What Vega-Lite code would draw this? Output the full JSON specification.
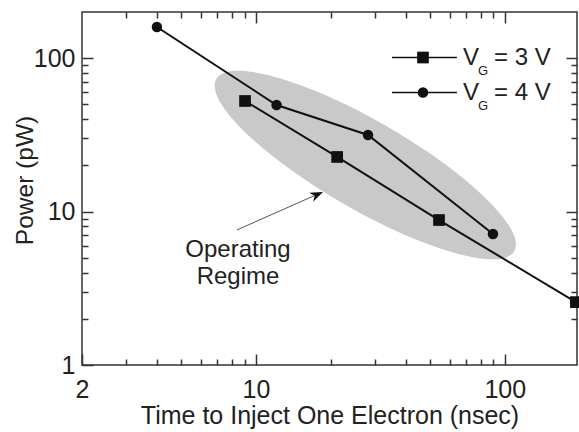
{
  "$schema": "https://vega.github.io/schema/vega-lite/v6.json",
  "width": 495,
  "height": 353,
  "autosize": {"type": "none"},
  "padding": {"left": 82, "top": 12, "right": 2, "bottom": 67},
  "background": "white",
  "config": {
    "view": {"stroke": "#333", "strokeWidth": 1.5},
    "font": "Liberation Sans",
    "axis": {
      "grid": false,
      "domain": false,
      "labelFont": "Liberation Sans",
      "titleFont": "Liberation Sans",
      "labelColor": "#222",
      "titleColor": "#222",
      "titleFontWeight": "normal",
      "tickColor": "#333",
      "tickWidth": 1.5
    }
  },
  "datasets": {
    "series": [
      {"t": 4.0, "p": 159.7, "vg": "4 V"},
      {"t": 12.1, "p": 49.5, "vg": "4 V"},
      {"t": 28.2, "p": 31.6, "vg": "4 V"},
      {"t": 89.6, "p": 7.14, "vg": "4 V"},
      {"t": 9.04, "p": 52.6, "vg": "3 V"},
      {"t": 21.2, "p": 22.7, "vg": "3 V"},
      {"t": 54.4, "p": 8.81, "vg": "3 V"},
      {"t": 193, "p": 2.57, "vg": "3 V"}
    ],
    "regime": [{"t": 27.5, "p": 20.1}],
    "legend": [
      {"x1": 35.2, "x2": 64.2, "xs": 46.9, "xt": 67.9, "p": 101, "vg": "3 V", "lab": "= 3 V"},
      {"x1": 35.2, "x2": 64.2, "xs": 46.9, "xt": 67.9, "p": 59.7, "vg": "4 V", "lab": "= 4 V"}
    ],
    "note": [{"tx": 8.47, "ty": 5.06, "txt": ["Operating", "Regime"], "ax1": 8.39, "ay1": 7.59, "ax2": 17.2, "ay2": 12.72, "axt": 18.6, "ayt": 13.42}]
  },
  "layer": [
    {
      "data": {"name": "regime"},
      "mark": {
        "type": "point",
        "shape": "M -1 0 C -1 -0.1425 -0.5523 -0.258 0 -0.258 C 0.5523 -0.258 1 -0.1425 1 0 C 1 0.1425 0.5523 0.258 0 0.258 C -0.5523 0.258 -1 0.1425 -1 0 Z",
        "size": 118336,
        "angle": 30,
        "filled": true,
        "color": "#c9c9c9",
        "opacity": 1,
        "strokeWidth": 0
      },
      "encoding": {
        "x": {
          "field": "t", "type": "quantitative",
          "scale": {"type": "log", "domain": [2, 195], "nice": false},
          "axis": {
            "orient": "top",
            "values": [3, 4, 5, 6, 7, 8, 9, 10, 20, 30, 40, 50, 60, 70, 80, 90, 100],
            "labels": false,
            "title": null,
            "tickSize": {"condition": {"test": "datum.value == 10 || datum.value == 100", "value": -11}, "value": -6}
          }
        },
        "y": {
          "field": "p", "type": "quantitative",
          "scale": {"type": "log", "domain": [1, 200], "nice": false},
          "axis": {
            "orient": "right",
            "values": [2, 3, 4, 5, 6, 7, 8, 9, 10, 20, 30, 40, 50, 60, 70, 80, 90, 100],
            "labels": false,
            "title": null,
            "tickSize": {"condition": {"test": "datum.value == 10 || datum.value == 100", "value": -11}, "value": -6}
          }
        }
      }
    },
    {
      "data": {"name": "series"},
      "mark": {"type": "line", "color": "#111", "strokeWidth": 2},
      "encoding": {
        "x": {
          "field": "t", "type": "quantitative",
          "axis": {
            "orient": "bottom",
            "values": [2, 3, 4, 5, 6, 7, 8, 9, 10, 20, 30, 40, 50, 60, 70, 80, 90, 100],
            "labelExpr": "datum.value == 2 || datum.value == 10 || datum.value == 100 ? '' + datum.value : ''",
            "tickSize": {"condition": {"test": "datum.value == 2 || datum.value == 10 || datum.value == 100", "value": -11}, "value": -6},
            "labelPadding": 43,
            "labelBaseline": "alphabetic",
            "labelFontSize": 25,
            "labelFlush": false,
            "labelOverlap": false,
            "title": "Time to Inject One Electron (nsec)",
            "titleFontSize": 25,
            "titleY": 58,
            "titleBaseline": "alphabetic"
          }
        },
        "y": {
          "field": "p", "type": "quantitative",
          "axis": {
            "orient": "left",
            "values": [1, 2, 3, 4, 5, 6, 7, 8, 9, 10, 20, 30, 40, 50, 60, 70, 80, 90, 100],
            "labelExpr": "datum.value == 1 || datum.value == 10 || datum.value == 100 ? '' + datum.value : ''",
            "tickSize": {"condition": {"test": "datum.value == 1 || datum.value == 10 || datum.value == 100", "value": -11}, "value": -6},
            "labelPadding": 18,
            "labelBaseline": "middle",
            "labelFontSize": 25,
            "labelFlush": false,
            "labelOverlap": false,
            "title": "Power (pW)",
            "titleFontSize": 24.5,
            "titleX": -45,
            "titleY": 168
          }
        },
        "detail": {"field": "vg"}
      }
    },
    {
      "data": {"name": "series"},
      "mark": {"type": "point", "filled": true, "color": "#111", "opacity": 1},
      "encoding": {
        "x": {"field": "t", "type": "quantitative", "axis": null},
        "y": {"field": "p", "type": "quantitative", "axis": null},
        "shape": {"field": "vg", "type": "nominal", "scale": {"domain": ["3 V", "4 V"], "range": ["square", "circle"]}, "legend": null},
        "size": {"field": "vg", "type": "nominal", "scale": {"domain": ["3 V", "4 V"], "range": [137, 110]}, "legend": null}
      }
    },
    {
      "data": {"name": "legend"},
      "mark": {"type": "rule", "color": "#111", "strokeWidth": 1.5},
      "encoding": {
        "x": {"field": "x1", "type": "quantitative", "axis": null},
        "x2": {"field": "x2"},
        "y": {"field": "p", "type": "quantitative", "axis": null}
      }
    },
    {
      "data": {"name": "legend"},
      "mark": {"type": "point", "filled": true, "color": "#111", "opacity": 1},
      "encoding": {
        "x": {"field": "xs", "type": "quantitative", "axis": null},
        "y": {"field": "p", "type": "quantitative", "axis": null},
        "shape": {"field": "vg", "type": "nominal", "scale": {"domain": ["3 V", "4 V"], "range": ["square", "circle"]}, "legend": null},
        "size": {"field": "vg", "type": "nominal", "scale": {"domain": ["3 V", "4 V"], "range": [137, 110]}, "legend": null}
      }
    },
    {
      "data": {"name": "legend"},
      "mark": {"type": "text", "text": "V", "align": "left", "baseline": "alphabetic", "dy": 7, "fontSize": 24, "color": "#222"},
      "encoding": {
        "x": {"field": "xt", "type": "quantitative", "axis": null},
        "y": {"field": "p", "type": "quantitative", "axis": null}
      }
    },
    {
      "data": {"name": "legend"},
      "mark": {"type": "text", "text": "G", "align": "left", "baseline": "alphabetic", "dx": 15, "dy": 17, "fontSize": 13, "color": "#222"},
      "encoding": {
        "x": {"field": "xt", "type": "quantitative", "axis": null},
        "y": {"field": "p", "type": "quantitative", "axis": null}
      }
    },
    {
      "data": {"name": "legend"},
      "mark": {"type": "text", "align": "left", "baseline": "alphabetic", "dx": 31, "dy": 7, "fontSize": 24, "color": "#222"},
      "encoding": {
        "x": {"field": "xt", "type": "quantitative", "axis": null},
        "y": {"field": "p", "type": "quantitative", "axis": null},
        "text": {"field": "lab"}
      }
    },
    {
      "data": {"name": "note"},
      "mark": {"type": "text", "align": "center", "baseline": "alphabetic", "fontSize": 24, "lineHeight": 27, "color": "#222"},
      "encoding": {
        "x": {"field": "tx", "type": "quantitative", "axis": null},
        "y": {"field": "ty", "type": "quantitative", "axis": null},
        "text": {"field": "txt"}
      }
    },
    {
      "data": {"name": "note"},
      "mark": {"type": "rule", "color": "#555", "strokeWidth": 1},
      "encoding": {
        "x": {"field": "ax1", "type": "quantitative", "axis": null},
        "y": {"field": "ay1", "type": "quantitative", "axis": null},
        "x2": {"field": "ax2"},
        "y2": {"field": "ay2"}
      }
    },
    {
      "data": {"name": "note"},
      "mark": {"type": "point", "shape": "M 0 0 L -2 -0.75 L -1.4 0 L -2 0.75 Z", "size": 169, "angle": 336, "filled": true, "color": "#111", "opacity": 1, "strokeWidth": 0},
      "encoding": {
        "x": {"field": "axt", "type": "quantitative", "axis": null},
        "y": {"field": "ayt", "type": "quantitative", "axis": null}
      }
    }
  ],
  "resolve": {"axis": {"x": "independent", "y": "independent"}}
}
